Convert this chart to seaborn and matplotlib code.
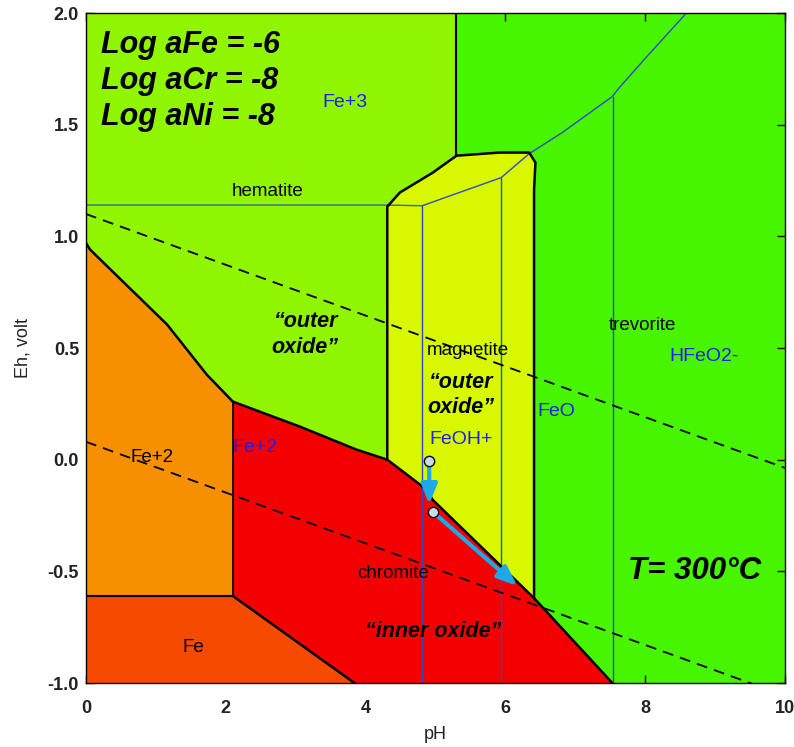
import matplotlib
matplotlib.use("Agg")
import matplotlib.pyplot as plt
import seaborn as sns
import pandas as pd

# ---------------- data (pH, Eh in volt) ----------------
fe2_top_ph = [0.0, 0.06, 1.16, 1.73, 2.1]
fe2_top_eh = [0.97, 0.94, 0.605, 0.38, 0.26]
fe_fe2_eh = -0.61
fe2_cr_ph = 2.1
fe_cr_ph = [2.1, 3.84]
fe_cr_eh = [-0.61, -1.0]
cr_top_ph = [2.1, 3.06, 3.87, 4.31, 4.63, 4.87, 4.96, 6.41, 7.53]
cr_top_eh = [0.26, 0.148, 0.045, 0.0, -0.076, -0.134, -0.18, -0.62, -1.0]
mag_ph = [4.31, 4.31, 4.49, 4.96, 5.3, 5.91, 6.34, 6.43, 6.41, 6.41]
mag_eh = [0.0, 1.133, 1.196, 1.285, 1.361, 1.375, 1.375, 1.33, 1.21, -0.62]
hem_trev_ph = 5.3
# aqueous Fe species boundaries (blue)
fe3_line_eh = 1.14
fe3_line_ph = [0.0, 4.31]
aq_curve_ph = [4.81, 5.94, 6.34, 6.81, 7.53, 7.63, 8.01, 8.59]
aq_curve_eh = [1.137, 1.263, 1.37, 1.464, 1.626, 1.666, 1.80, 2.0]
aq_vert_ph = [4.81, 5.94, 7.54]
aq_vert_top = [1.137, 1.263, 1.626]
# water stability lines
water_ph = [0.0, 10.0]
water_upper_eh = [1.10, -0.037]
water_lower_eh = [0.08, -1.057]
# corrosion path
path_ph = [4.91, 4.96]
path_eh = [-0.005, -0.233]
arrow1 = [(4.91, -0.005), (4.91, -0.20)]
arrow2 = [(4.96, -0.233), (6.17, -0.565)]

region_labels = [("Fe+2", 0.94, 0.01, "black"), ("hematite", 2.6, 1.20, "black"),
                 ("magnetite", 5.46, 0.49, "black"), ("trevorite", 7.96, 0.60, "black"),
                 ("chromite", 4.4, -0.51, "black"), ("Fe", 1.54, -0.84, "black"),
                 ("Fe+3", 3.7, 1.60, "#2020E0"), ("FeO", 6.73, 0.215, "#2020E0"),
                 ("HFeO2-", 8.84, 0.46, "#2020E0"), ("FeOH+", 5.37, 0.09, "#2020E0"),
                 ("Fe+2", 2.41, 0.054, "#2020E0")]
oxide_labels = [("\u201couter\noxide\u201d", 3.13, 0.56), ("\u201couter\noxide\u201d", 5.36, 0.29),
                ("\u201cinner oxide\u201d", 4.96, -0.77)]
activity_labels = ["Log aFe = -6", "Log aCr = -8", "Log aNi = -8"]
activity_eh = [1.855, 1.695, 1.535]
x_ticks = [0, 2, 4, 6, 8, 10]
y_ticks = [-1.0, -0.5, 0.0, 0.5, 1.0, 1.5, 2.0]

# ---------------- plotting ----------------
sns.set_theme(style="white")
plt.rcParams['font.family'] = ['Liberation Sans', 'DejaVu Sans']
plt.rcParams['text.color'] = 'black'
plt.rcParams['axes.labelcolor'] = 'black'

fig = plt.figure(figsize=(7.94, 7.47), dpi=100)
ax = fig.add_axes([86/794, 1-683/747, 699/794, 670/747])
ax.set_xlim(0, 10)
ax.set_ylim(-1.0, 2.0)

c_dkgreen = "#48F500"
c_ltgreen = "#90F500"
c_yellow = "#D8F800"
c_red = "#F50000"
c_orange = "#F79000"
c_fe = "#F54A00"

ax.fill([0, 10, 10, 0], [-1, -1, 2, 2], color=c_dkgreen, lw=0, zorder=0)

# light green (hematite / Fe+3)
i_mag = cr_top_ph.index(4.31)
lg_x = [0, hem_trev_ph, hem_trev_ph] + mag_ph[4::-1] + cr_top_ph[i_mag::-1] + fe2_top_ph[::-1]
lg_y = [2, 2, mag_eh[4]] + mag_eh[4::-1] + cr_top_eh[i_mag::-1] + fe2_top_eh[::-1]
ax.fill(lg_x, lg_y, color=c_ltgreen, lw=0, zorder=1)
# magnetite
i_end = cr_top_ph.index(6.41)
my_x = mag_ph + cr_top_ph[i_end:i_mag - 1:-1]
my_y = mag_eh + cr_top_eh[i_end:i_mag - 1:-1]
ax.fill(my_x, my_y, color=c_yellow, lw=0, zorder=1)
# Fe+2
ax.fill(fe2_top_ph + [fe2_cr_ph, 0], fe2_top_eh + [fe_fe2_eh, fe_fe2_eh], color=c_orange, lw=0, zorder=1)
# Fe
ax.fill([0] + fe_cr_ph + [0], [fe_fe2_eh] + fe_cr_eh + [-1], color=c_fe, lw=0, zorder=1)
# chromite
ax.fill(cr_top_ph + fe_cr_ph[::-1], cr_top_eh + fe_cr_eh[::-1], color=c_red, lw=0, zorder=1)

# black boundaries
def bline(x, y, lw=1.8, **kw):
    df = pd.DataFrame({"x": x, "y": y, "o": range(len(x))})
    sns.lineplot(data=df, x="x", y="y", sort=False, estimator=None, color="black",
                 lw=lw, ax=ax, zorder=4, **kw)

bline(fe2_top_ph, fe2_top_eh)
bline(cr_top_ph, cr_top_eh)
bline(mag_ph, mag_eh)
bline([hem_trev_ph, hem_trev_ph], [mag_eh[4], 2.0], lw=1.5)
bline([fe2_cr_ph, fe2_cr_ph], [fe_fe2_eh, fe2_top_eh[-1]], lw=1.2)
bline([0, fe2_cr_ph], [fe_fe2_eh, fe_fe2_eh], lw=1.5)
bline(fe_cr_ph, fe_cr_eh, lw=1.8)

# blue aqueous lines
blue = "#3348C8"
ax.plot(fe3_line_ph + [aq_curve_ph[0]], [fe3_line_eh] * 2 + [aq_curve_eh[0]], color="#3A62A8", lw=1.0, zorder=3)
ax.plot(aq_curve_ph, aq_curve_eh, color=blue, lw=1.0, zorder=3)
for p, t in zip(aq_vert_ph, aq_vert_top):
    ax.plot([p, p], [-1.0, t], color=blue, lw=1.0, zorder=3)

# water lines
ax.plot(water_ph, water_upper_eh, color="black", lw=1.3, ls=(0, (6, 4)), zorder=5)
ax.plot(water_ph, water_lower_eh, color="black", lw=1.3, ls=(0, (6, 4)), zorder=5)

# path arrows
for (a, b) in [arrow1, arrow2]:
    ax.annotate("", xy=b, xytext=a,
                arrowprops=dict(arrowstyle="-|>,head_length=1.0,head_width=0.4",
                                color="#1EA8E6", lw=3.0, shrinkA=3, shrinkB=0), zorder=6)
ax.scatter(path_ph, path_eh, s=55, facecolor="#C8DCE6", edgecolor="black", lw=1.0, zorder=7)

# labels
for t, x, y, c in region_labels:
    fs = 14 if c != "black" else 13.5
    ax.text(x, y, t, color=c, fontsize=fs, ha="center", va="center", zorder=8)
for t, x, y in oxide_labels:
    ax.text(x, y, t, color="black", fontsize=15.5, fontweight="bold", fontstyle="italic",
            ha="center", va="center", linespacing=1.3, zorder=8)
for t, y in zip(activity_labels, activity_eh):
    ax.text(0.22, y, t, color="black", fontsize=22, fontweight="bold", fontstyle="italic",
            ha="left", va="center", zorder=8)
ax.text(8.7, -0.5, "T= 300\u00b0C", color="black", fontsize=22.5, fontweight="bold", fontstyle="italic",
        ha="center", va="center", zorder=8)

ax.set_xticks(x_ticks)
ax.set_yticks(y_ticks)
ax.set_xticklabels([str(v) for v in x_ticks])
ax.set_yticklabels([f"{v:.1f}" for v in y_ticks])
ax.tick_params(direction="in", length=6, width=1, top=True, right=True, bottom=True, left=True,
               labelsize=13, colors="black")
ax.tick_params(axis="x", pad=12)
ax.tick_params(axis="y", pad=5)
for lab in ax.get_xticklabels() + ax.get_yticklabels():
    lab.set_fontweight("bold")
    lab.set_color("#222222")
ax.set_xlabel("pH", fontsize=13, labelpad=7, color="#222222")
ax.set_ylabel("Eh, volt", fontsize=13, labelpad=12, color="#222222")
for s in ax.spines.values():
    s.set_color("black")
    s.set_linewidth(1.0)
    s.set_zorder(10)

fig.savefig("out.png", dpi=100)
